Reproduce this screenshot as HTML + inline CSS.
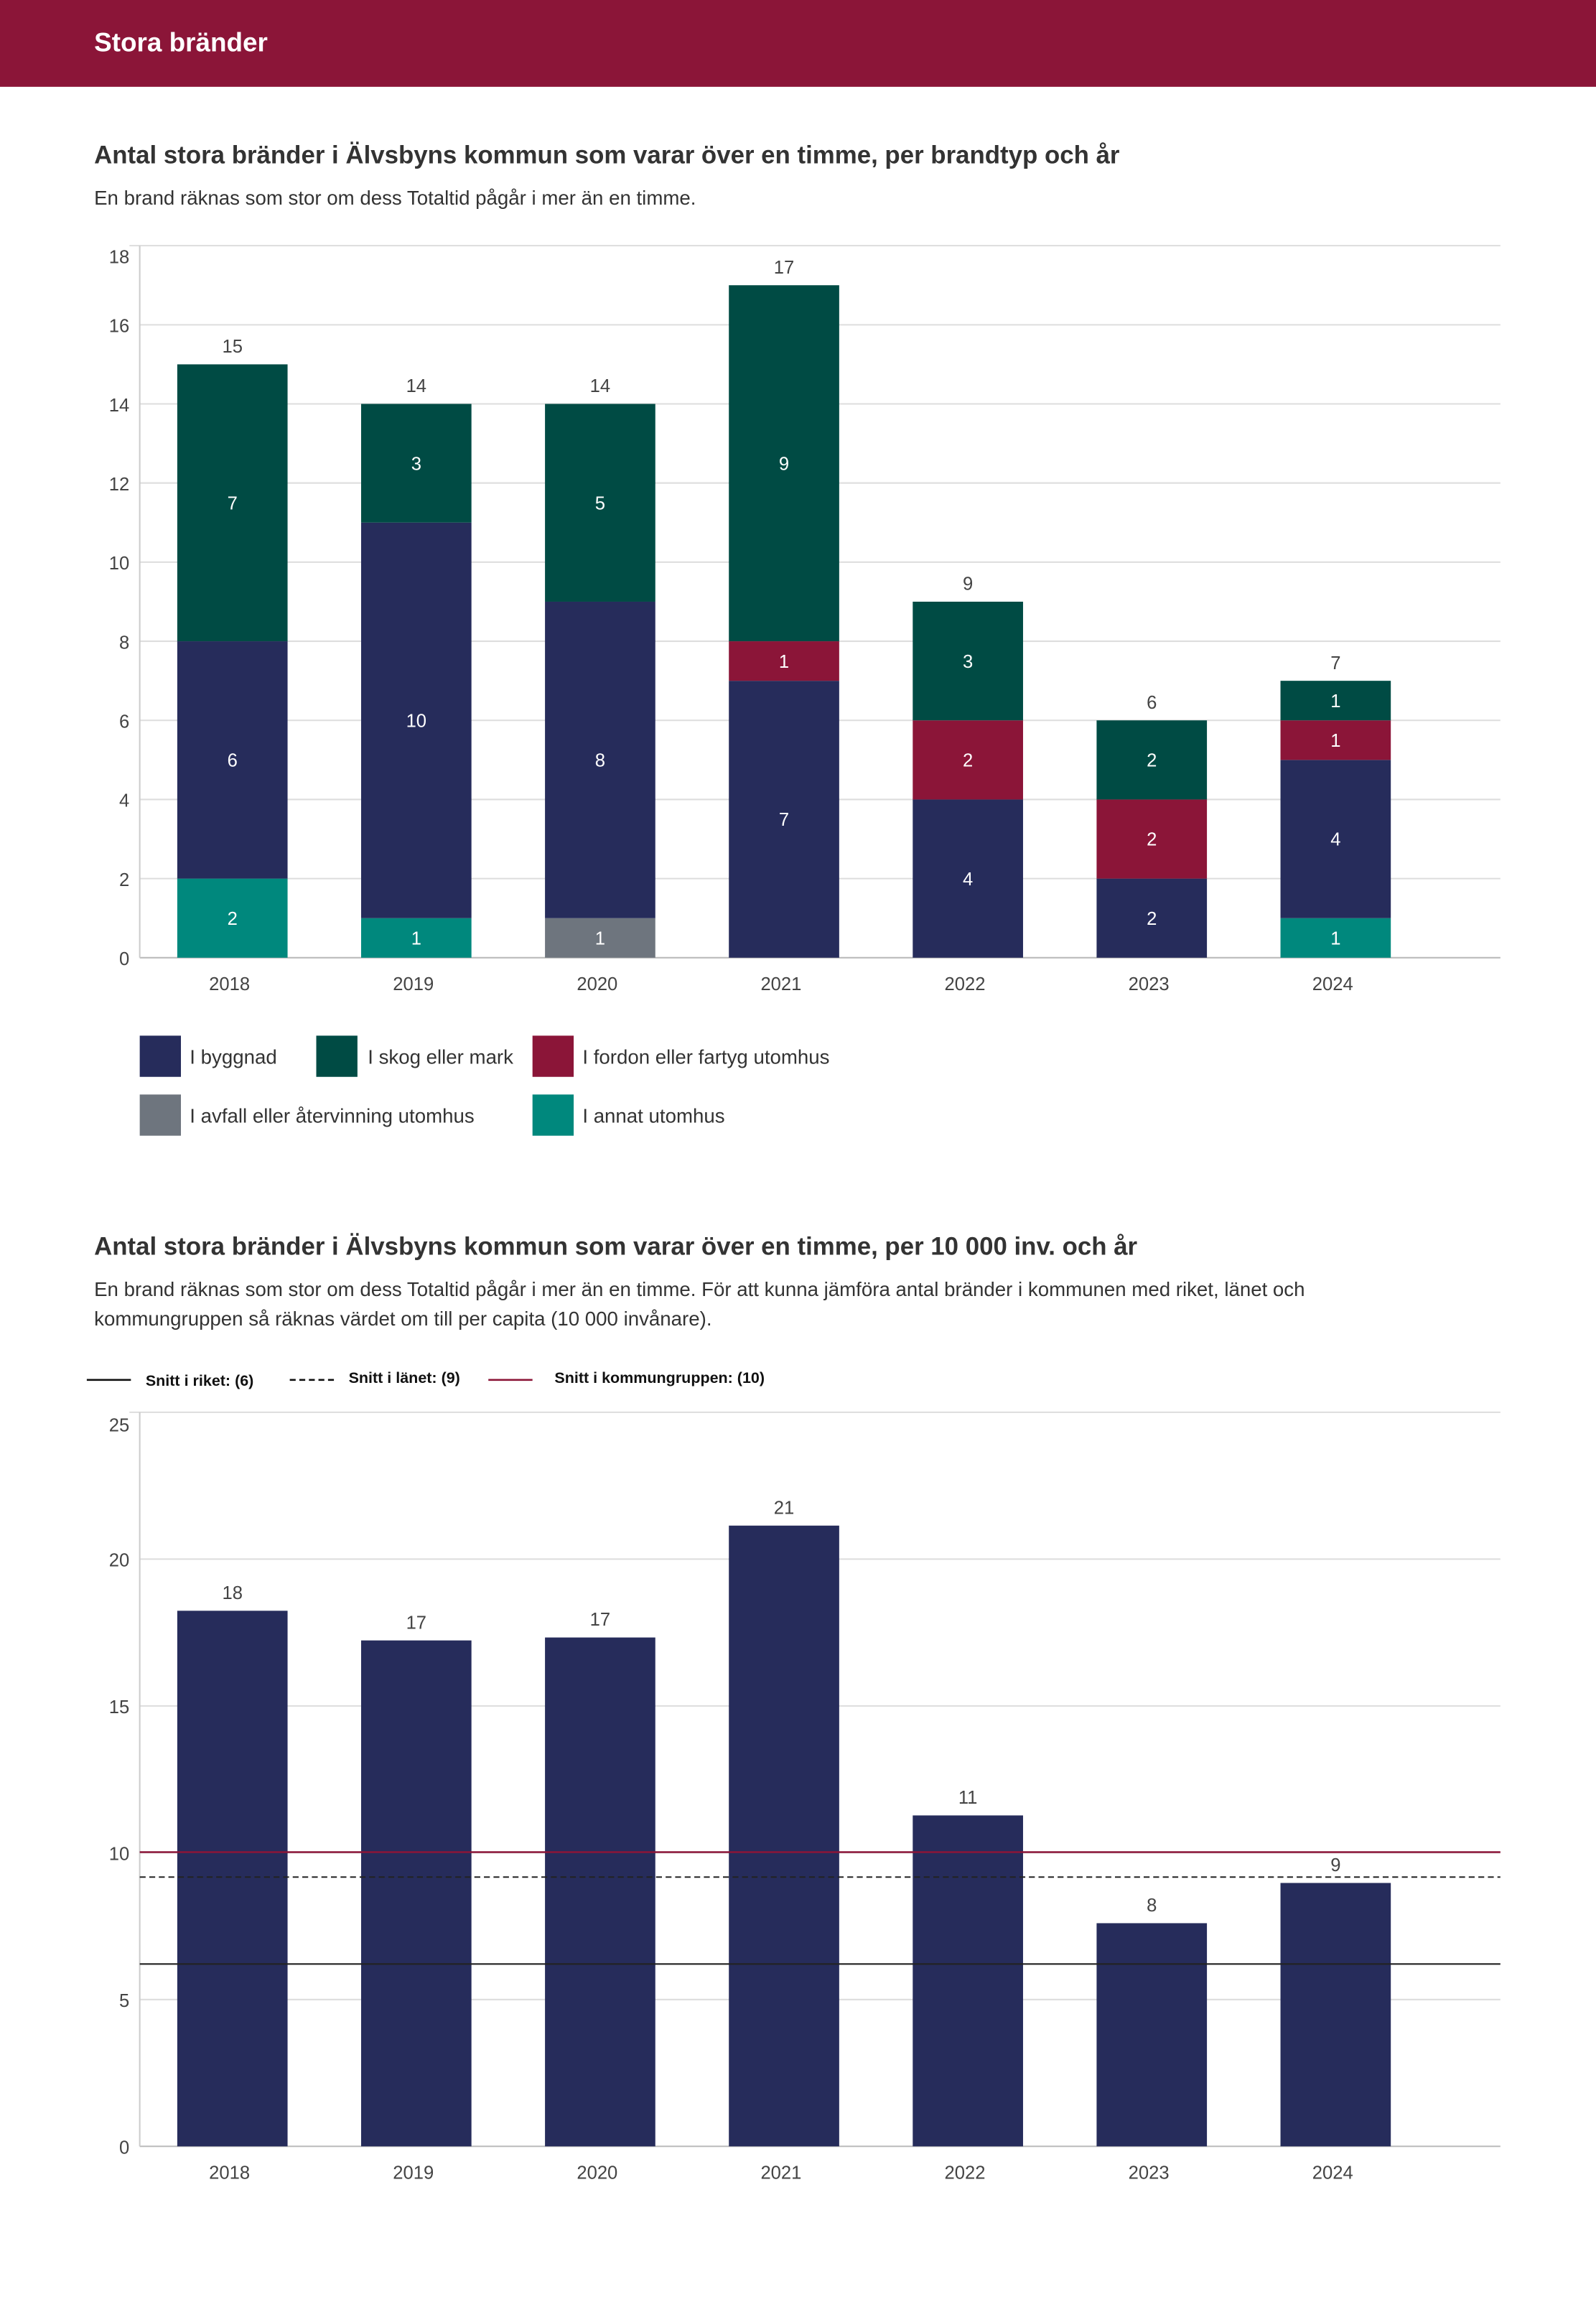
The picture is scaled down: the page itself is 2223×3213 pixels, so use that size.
<!DOCTYPE html>
<html><head><meta charset="utf-8"><style>
html,body{margin:0;padding:0;background:#fff}
svg{display:block;font-family:"Liberation Sans",sans-serif}
</style></head><body>
<svg id="s" width="2223" height="3213" viewBox="0 0 1085 1568.2" xmlns="http://www.w3.org/2000/svg">
<rect x="0" y="0" width="1085" height="59" fill="#8B1538"/>
<text x="64" y="35" fill="#fff" font-size="18" font-weight="bold">Stora bränder</text>
<text x="64" y="111" fill="#333" font-size="17" font-weight="bold">Antal stora bränder i Älvsbyns kommun som varar över en timme, per brandtyp och år</text>
<text x="64" y="139" fill="#333" font-size="13.5">En brand räknas som stor om dess Totaltid pågår i mer än en timme.</text>
<g id="c1"></g>
<g>
<rect x="95" y="704" width="28" height="28" fill="#262C5B"/>
<text x="129" y="723" font-size="13.5" fill="#333">I byggnad</text>
<rect x="215" y="704" width="28" height="28" fill="#004B44"/>
<text x="250" y="723" font-size="13.5" fill="#333">I skog eller mark</text>
<rect x="362" y="704" width="28" height="28" fill="#8B1538"/>
<text x="396" y="723" font-size="13.5" fill="#333">I fordon eller fartyg utomhus</text>
<rect x="95" y="744" width="28" height="28" fill="#6E757E"/>
<text x="129" y="763" font-size="13.5" fill="#333">I avfall eller återvinning utomhus</text>
<rect x="362" y="744" width="28" height="28" fill="#00887D"/>
<text x="396" y="763" font-size="13.5" fill="#333">I annat utomhus</text>
</g>
<text x="64" y="853" fill="#333" font-size="17" font-weight="bold">Antal stora bränder i Älvsbyns kommun som varar över en timme, per 10 000 inv. och år</text>
<text x="64" y="881" fill="#333" font-size="13.5">En brand räknas som stor om dess Totaltid pågår i mer än en timme. För att kunna jämföra antal bränder i kommunen med riket, länet och</text>
<text x="64" y="901" fill="#333" font-size="13.5">kommungruppen så räknas värdet om till per capita (10 000 invånare).</text>
<g>
<line x1="59" y1="938" x2="89" y2="938" stroke="#111" stroke-width="1.3"/>
<text x="99" y="942" font-size="10.5" font-weight="bold" fill="#111">Snitt i riket: (6)</text>
<line x1="197" y1="938" x2="227" y2="938" stroke="#111" stroke-width="1.3" stroke-dasharray="4,2.5"/>
<text x="237" y="940" font-size="10.5" font-weight="bold" fill="#111">Snitt i länet: (9)</text>
<line x1="332" y1="938" x2="362" y2="938" stroke="#8B1538" stroke-width="1.3"/>
<text x="377" y="940" font-size="10.5" font-weight="bold" fill="#111">Snitt i kommungruppen: (10)</text>
</g>
<g id="c2"></g>
</svg>
<script>
const years = ["2018","2019","2020","2021","2022","2023","2024"];
const annat = [2,1,0,0,0,0,1];
const avfall = [0,0,1,0,0,0,0];
const byggnad = [6,10,8,7,4,2,4];
const fordon = [0,0,0,1,2,2,1];
const skog = [7,3,5,9,3,2,1];
const ticks1 = [0,2,4,6,8,10,12,14,16,18];
const perCapita = [18.24,17.23,17.33,21.14,11.27,7.6,8.97];
const perCapitaLabels = ["18","17","17","21","11","8","9"];
const ticks2 = [0,5,10,15,20,25];
const riket = 6.21, lanet = 9.17, kommungrupp = 10.02;

const NS="http://www.w3.org/2000/svg";
function mk(parent,tag,attrs,txt){const e=document.createElementNS(NS,tag);for(const k in attrs)e.setAttribute(k,attrs[k]);if(txt!==undefined)e.textContent=txt;parent.appendChild(e);return e;}
const xc = i => 158 + i*125;
const bw = 75;

// chart 1
const c1=document.getElementById('c1');
const y1 = v => 651 - v*(484/18);
ticks1.forEach(t=>{
  const l=mk(c1,'line',{x1:t===18?88:95,x2:1020,y1:y1(t),y2:y1(t),stroke:t===0?'#bbb':'#ddd','stroke-width':1});
  
  
  const tx=mk(c1,'text',{x:88,y:y1(t)+(t===18?12:5),'text-anchor':'end','font-size':12.5,fill:'#444'},t);
  
  
});
const ax1=mk(c1,'line',{x1:95,x2:95,y1:167,y2:651,stroke:'#ccc','stroke-width':1});


const series=[["annat",annat,"#00887D"],["avfall",avfall,"#6E757E"],["byggnad",byggnad,"#262C5B"],["fordon",fordon,"#8B1538"],["skog",skog,"#004B44"]];
years.forEach((yr,i)=>{
  let base=0;
  series.forEach(([nm,arr,col])=>{
    const v=arr[i]; if(!v) return;
    const r=mk(c1,'rect',{x:xc(i)-bw/2,y:y1(base+v),width:bw,height:y1(base)-y1(base+v),fill:col});
    
    
    const t=mk(c1,'text',{x:xc(i),y:(y1(base)+y1(base+v))/2+4.5,'text-anchor':'middle','font-size':12.5,fill:'#fff'},v);
    
    
    base+=v;
  });
  const tt=mk(c1,'text',{x:xc(i),y:y1(base)-8,'text-anchor':'middle','font-size':12.5,fill:'#444'},base);
  
  
  const xl=mk(c1,'text',{x:xc(i)-2,y:673,'text-anchor':'middle','font-size':12.5,fill:'#444'},yr);
  
  
});

// chart 2
const c2=document.getElementById('c2');
const y2 = v => 1459 - v*(499/25);
ticks2.forEach(t=>{
  const l=mk(c2,'line',{x1:t===25?88:95,x2:1020,y1:y2(t),y2:y2(t),stroke:t===0?'#bbb':'#ddd','stroke-width':1});
  
  
  const tx=mk(c2,'text',{x:88,y:y2(t)+(t===25?13:5),'text-anchor':'end','font-size':12.5,fill:'#444'},t);
  
  
});
const ax2=mk(c2,'line',{x1:95,x2:95,y1:960,y2:1459,stroke:'#ccc','stroke-width':1});


years.forEach((yr,i)=>{
  const v=perCapita[i];
  const r=mk(c2,'rect',{x:xc(i)-bw/2,y:y2(v),width:bw,height:y2(0)-y2(v),fill:'#262C5B'});
  
  
  const t=mk(c2,'text',{x:xc(i),y:y2(v)-8,'text-anchor':'middle','font-size':12.5,fill:'#444'},perCapitaLabels[i]);
  
  
  const xl=mk(c2,'text',{x:xc(i)-2,y:1481,'text-anchor':'middle','font-size':12.5,fill:'#444'},yr);
  
  
});
const lr=mk(c2,'line',{x1:95,x2:1020,y1:y2(riket),y2:y2(riket),stroke:'#222','stroke-width':1});


const ll=mk(c2,'line',{x1:95,x2:1020,y1:y2(lanet),y2:y2(lanet),stroke:'#222','stroke-width':1,'stroke-dasharray':'4,2.5'});


const lk=mk(c2,'line',{x1:95,x2:1020,y1:y2(kommungrupp),y2:y2(kommungrupp),stroke:'#8B1538','stroke-width':1.2});


</script>
</body></html>
